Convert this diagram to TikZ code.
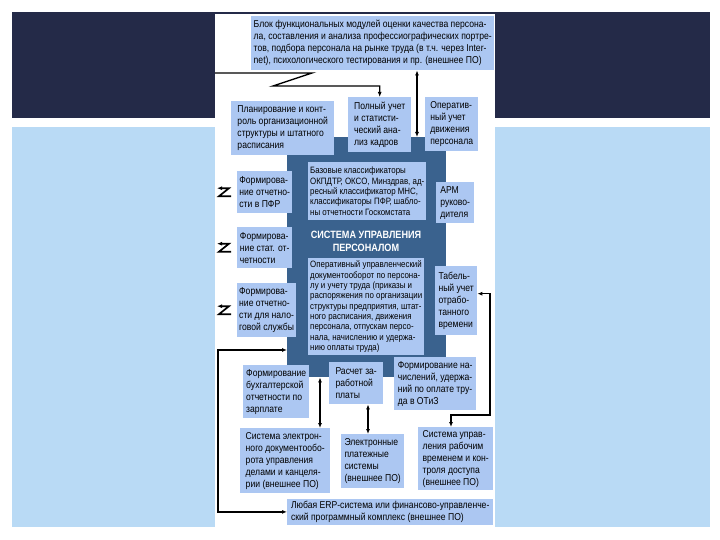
\documentclass[tikz,border=0pt]{standalone}
\usepackage{fontspec}
\setmainfont[FakeStretch=0.86]{Liberation Sans}
\usetikzlibrary{arrows.meta}
\definecolor{navyband}{RGB}{36,42,72}
\definecolor{skyband}{RGB}{185,218,245}
\definecolor{coreblue}{RGB}{58,98,142}
\definecolor{boxblue}{RGB}{172,199,242}

\begin{document}
\begin{tikzpicture}[x=1pt,y=-1pt,
  box/.style={fill=boxblue,anchor=north west,inner sep=2pt,align=left,
    font=\fontsize{10}{12}\selectfont},
  inbox/.style={box,font=\fontsize{9.2}{10.3}\selectfont},
  arr/.style={line width=1.4pt,-{Latex[length=5pt,width=4pt]}},
  twoway/.style={line width=1.4pt,{Latex[length=5pt,width=4pt]}-{Latex[length=5pt,width=4pt]}}]
  \useasboundingbox (0,0) rectangle (720,540);
  \fill[white] (0,0) rectangle (720,540);
  \fill[navyband] (12,12) rectangle (710,118);
  \fill[skyband] (12,127) rectangle (710,527);
  \fill[white] (215,14) rectangle (495,530);

  \node[fill=coreblue,anchor=north west,inner sep=0pt,minimum width=159pt,minimum height=240pt] (core) at (287,137) {};
  \node[text=white,align=center,font=\bfseries\fontsize{10.6}{13}\selectfont] (title) at (366,241) {СИСТЕМА УПРАВЛЕНИЯ\\ПЕРСОНАЛОМ};

  \node[box,minimum width=243pt,minimum height=54pt] (modules) at (251,16) {Блок функциональных модулей оценки качества персона-\\ла, составления и анализа профессиографических портре-\\тов, подбора персонала на рынке труда (в т.ч. через Inter-\\net), психологического тестирования и пр. (внешнее ПО)};
  \node[box,minimum width=103pt,minimum height=54pt] (orgplan) at (231,101) {Планирование и конт-\\роль организационной\\структуры и штатного\\расписания};
  \node[box,minimum width=63pt,minimum height=55pt] (fullstat) at (348,97) {Полный учет\\и статисти-\\ческий ана-\\лиз кадров};
  \node[box,minimum width=53pt,minimum height=54pt] (moves) at (425,97) {Оператив-\\ный учет\\движения\\персонала};

  \node[inbox,minimum width=116pt,minimum height=58pt] (classif) at (308,162) {Базовые классификаторы\\ОКПДТР, ОКСО, Минздрав, ад-\\ресный классификатор МНС,\\классификаторы ПФР, шабло-\\ны отчетности Госкомстата};
  \node[inbox,minimum width=116pt,minimum height=97pt] (docflow) at (308,258) {Оперативный управленческий\\документооборот по персона-\\лу и учету труда (приказы и\\распоряжения по организации\\структуры предприятия, штат-\\ного расписания, движения\\персонала, отпускам персо-\\нала, начислению и удержа-\\нию оплаты труда)};

  \node[box,minimum width=55pt,minimum height=42pt] (pfr) at (237,171) {Формирова-\\ние отчетно-\\сти в ПФР};
  \node[box,minimum width=55pt,minimum height=41pt] (gks) at (237,227) {Формирова-\\ние стат. от-\\четности};
  \node[box,minimum width=55pt,minimum height=54pt] (tax) at (237,283) {Формирова-\\ние отчетно-\\сти для нало-\\говой службы};

  \node[box,minimum width=38pt,minimum height=41pt] (arm) at (436,182) {АРМ\\руково-\\дителя};
  \node[box,minimum width=42pt,minimum height=69pt] (timesheet) at (435,266) {Табель-\\ный учет\\отрабо-\\танного\\времени};

  \node[box,minimum width=66pt,minimum height=53pt] (acc) at (243,365) {Формирование\\бухгалтерской\\отчетности по\\зарплате};
  \node[box,minimum width=54pt,minimum height=42pt] (payroll) at (329,362) {Расчет за-\\работной\\платы};
  \node[box,minimum width=82pt,minimum height=53pt] (otiz) at (394,357) {Формирование на-\\числений, удержа-\\ний по оплате тру-\\да в ОТиЗ};

  \node[box,minimum width=90pt,minimum height=65pt] (edms) at (240,428) {Система электрон-\\ного документообо-\\рота управления\\делами и канцеля-\\рии (внешнее ПО)};
  \node[box,minimum width=63pt,minimum height=54pt] (epay) at (341,434) {Электронные\\платежные\\системы\\(внешнее ПО)};
  \node[box,minimum width=75pt,minimum height=63pt] (tms) at (418,427) {Система управ-\\ления рабочим\\временем и кон-\\троля доступа\\(внешнее ПО)};

  \node[box,minimum width=206pt,minimum height=25pt] (erp) at (287,499) {Любая ERP-система или финансово-управленче-\\ский программный комплекс (внешнее ПО)};

  \coordinate (zin) at (215,73);
  \draw[arr] (zin) -- (312,73) -- (273,86) -| (fullstat.north);
  \draw[twoway] (modules.south -| 417,0) -- (core.north -| 417,0);
  \foreach \b in {pfr,gks,tax}
    \draw[arr,line width=1.7pt] ([shift={(-6,4)}]\b.west) -- ++(-12,0) -- ++(10,-8) -- ++(-12,0);
  \coordinate (loop) at (218,350);
  \draw[twoway] (core.west |- loop) -- (loop) |- (erp.west);
  \draw[twoway] (core.south -| 320,0) -- (edms.north -| 320,0);
  \draw[twoway] (payroll.south -| 368,0) -- (epay.north -| 368,0);
  \coordinate (turn) at (490,415);
  \draw[twoway] (tms.north -| 451,0) |- (turn) |- ([yshift=7pt]timesheet.east);
\end{tikzpicture}
\end{document}
